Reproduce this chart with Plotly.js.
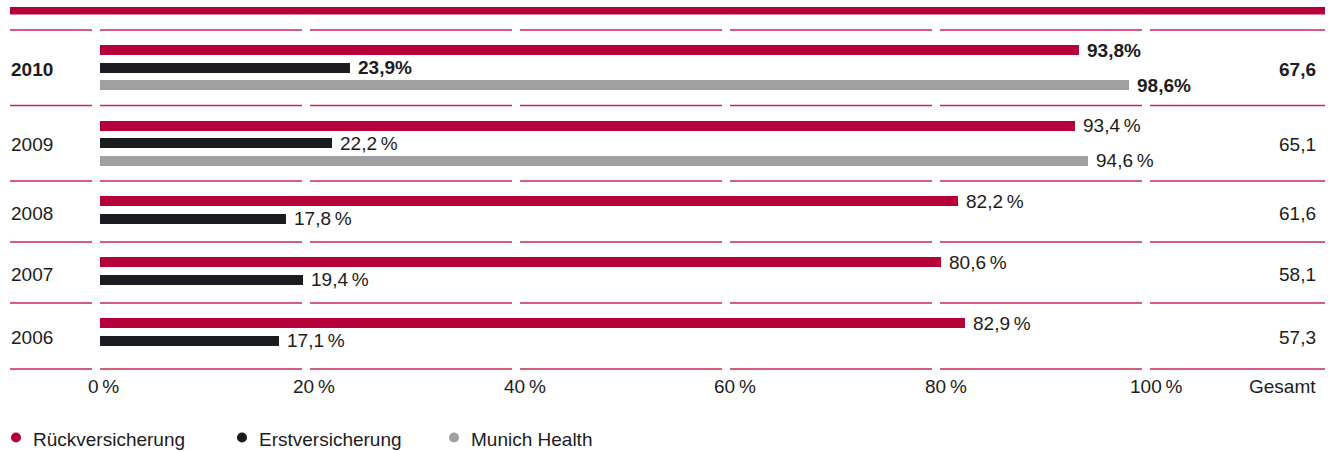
<!DOCTYPE html>
<html>
<head>
<meta charset="utf-8">
<script src="https://cdn.plot.ly/plotly-3.0.1.min.js"></script>
<style>
html,body{margin:0;padding:0;background:#fff;}
#chart{width:1335px;height:451px;}
</style>
</head>
<body>
<div id="chart"></div>
<script>
// ---------- data ----------
const years = ['2010', '2009', '2008', '2007', '2006'];
const rueckversicherung = [93.8, 93.4, 82.2, 80.6, 82.9];
const erstversicherung = [23.9, 22.2, 17.8, 19.4, 17.1];
const munichHealth = [98.6, 94.6, null, null, null];
const gesamt = [67.6, 65.1, 61.6, 58.1, 57.3];
const tickValues = [0, 20, 40, 60, 80, 100];
const seriesNames = ['Rückversicherung', 'Erstversicherung', 'Munich Health'];
const gesamtLabel = 'Gesamt';

// ---------- style / layout constants ----------
const W = 1335, H = 451;
const colors = ['#b5003a', '#1c1b20', '#a0a0a2'];
const textColor = '#1c1c20';
const lineColor = '#c62a52';
const FONT = 'Liberation Sans, Arial, sans-serif';
const FS = 19;
const zeroPx = 100, pxPerUnit = 10.44;          // bar scale
const tickZeroPx = 103.5, tickPxPerUnit = 10.525; // tick label scale
const firstTop = 30, topPad = 20, pitch = 17.5, barW = 10;
const series = [rueckversicherung, erstversicherung, munichHealth];

function fmt(v) { return v.toFixed(1).replace('.', ','); }
function px(x) { return x / W; }

const groupTops = [];
const groupRows = [];
let cursorY = firstTop;
years.forEach((y, i) => {
  const present = series.map((s, k) => (s[i] !== null ? k : -1)).filter(k => k >= 0);
  groupRows.push(present);
  groupTops.push(cursorY);
  cursorY += 32 + 14.5 * present.length;
});
const lastBottom = cursorY + 5;
const boundaries = groupTops.concat([lastBottom]);

function rowY(i, k) {
  const idx = groupRows[i].indexOf(k);
  return groupTops[i] + topPad + idx * pitch;
}

const traces = series.map((s, k) => {
  const xs = [], ys = [];
  s.forEach((v, i) => { if (v !== null) { xs.push(v); ys.push(rowY(i, k)); } });
  return {
    type: 'bar', orientation: 'h', x: xs, y: ys, width: barW,
    marker: { color: colors[k], line: { width: 0 } },
    name: seriesNames[k], hoverinfo: 'skip', showlegend: false
  };
});
traces.push({ type: 'scatter', mode: 'markers', x: tickValues, y: tickValues.map(() => null),
  xaxis: 'x2', yaxis: 'y', hoverinfo: 'skip', showlegend: false });

const annotations = [];
const shapes = [];

series.forEach((s, k) => {
  s.forEach((v, i) => {
    if (v === null) return;
    const bold = i === 0;
    annotations.push({
      x: v, y: rowY(i, k), xref: 'x', yref: 'y', xanchor: 'left', yanchor: 'middle',
      xshift: 6, showarrow: false,
      text: bold ? '<b>' + fmt(v) + '%</b>' : fmt(v) + '\u2009%',
      font: { family: FONT, size: FS, color: textColor }
    });
  });
});

years.forEach((yr, i) => {
  const c = (boundaries[i] + boundaries[i + 1]) / 2 + 1.5;
  const bold = i === 0;
  annotations.push({ x: px(9), y: c, xref: 'paper', yref: 'y', xanchor: 'left', yanchor: 'middle',
    showarrow: false, text: bold ? '<b>' + yr + '</b>' : yr,
    font: { family: FONT, size: FS, color: textColor } });
  annotations.push({ x: px(1318), y: c, xref: 'paper', yref: 'y', xanchor: 'right', yanchor: 'middle',
    showarrow: false, text: bold ? '<b>' + fmt(gesamt[i]) + '</b>' : fmt(gesamt[i]),
    font: { family: FONT, size: FS, color: textColor } });
});

const tickY = lastBottom + 17;
tickValues.forEach(t => {
  annotations.push({ x: t, y: tickY, xref: 'x2', yref: 'y', xanchor: 'center', yanchor: 'middle',
    showarrow: false, text: t + '\u2009%', font: { family: FONT, size: FS, color: textColor } });
});
annotations.push({ x: px(1318), y: tickY, xref: 'paper', yref: 'y', xanchor: 'right', yanchor: 'middle',
  showarrow: false, text: gesamtLabel, font: { family: FONT, size: FS, color: textColor } });

shapes.push({ type: 'rect', xref: 'paper', yref: 'y', x0: px(10), x1: px(1325), y0: 7, y1: 14.5,
  fillcolor: colors[0], line: { width: 0 } });

const segStarts = [10], segEnds = [];
for (let k = 0; k <= 5; k++) { segEnds.push(zeroPx - 8 + 210 * k); segStarts.push(zeroPx + 210 * k); }
segEnds.push(1325);
boundaries.forEach((b) => {
  segStarts.forEach((s, j) => {
    shapes.push({ type: 'line', xref: 'paper', yref: 'y', x0: px(s), x1: px(segEnds[j]), y0: b, y1: b,
      line: { color: lineColor, width: 1.3 } });
  });
});

const legendY = 439;
const legendDotX = [16, 242, 454];
const legendTextX = [31, 257, 469];
seriesNames.forEach((n, k) => {
  shapes.push({ type: 'circle', xref: 'paper', yref: 'y',
    x0: px(legendDotX[k] - 5), x1: px(legendDotX[k] + 5), y0: legendY - 6.5, y1: legendY + 3.5,
    fillcolor: colors[k], line: { width: 0 } });
  annotations.push({ x: px(legendTextX[k]), y: legendY, xref: 'paper', yref: 'y', xanchor: 'left',
    yanchor: 'middle', showarrow: false, text: n, font: { family: FONT, size: FS, color: textColor } });
});

const layout = {
  width: W, height: H,
  margin: { l: 0, r: 0, t: 0, b: 0, pad: 0 },
  paper_bgcolor: '#fff', plot_bgcolor: '#fff',
  showlegend: false, bargap: 0,
  xaxis: { range: [-zeroPx / pxPerUnit, (W - zeroPx) / pxPerUnit], visible: false, fixedrange: true },
  xaxis2: { range: [-tickZeroPx / tickPxPerUnit, (W - tickZeroPx) / tickPxPerUnit], overlaying: 'x',
    anchor: 'y', visible: false, fixedrange: true },
  yaxis: { range: [H, 0], visible: false, fixedrange: true },
  annotations: annotations,
  shapes: shapes,
  hovermode: false
};

Plotly.newPlot('chart', traces, layout, { displayModeBar: false, staticPlot: true });
</script>
</body>
</html>
